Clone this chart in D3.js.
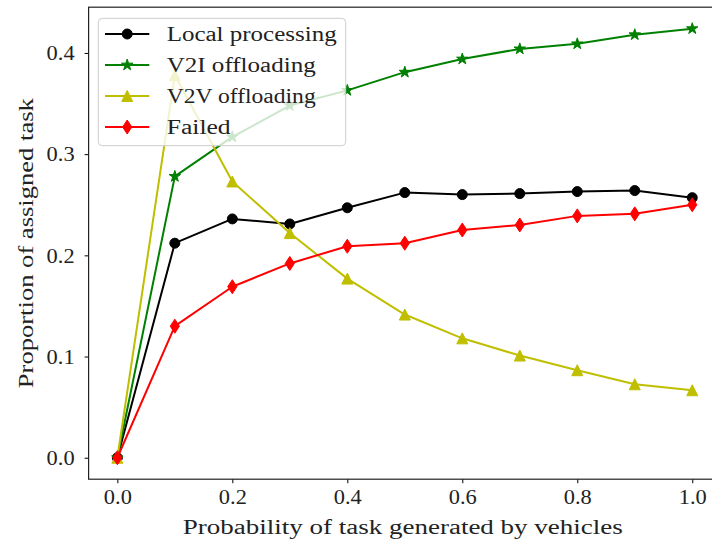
<!DOCTYPE html>
<html><head><meta charset="utf-8">
<script src="https://cdn.jsdelivr.net/npm/d3@7"></script>
<style>body{margin:0;background:#fff}svg{display:block}</style>
</head><body>
<svg id="c" width="712" height="541"></svg>
<script>
const xValues = [0, 0.1, 0.2, 0.3, 0.4, 0.5, 0.6, 0.7, 0.8, 0.9, 1.0];
const localProcessing = [0, 0.212, 0.236, 0.231, 0.247, 0.262, 0.260, 0.261, 0.263, 0.264, 0.257];
const v2iOffloading = [0, 0.278, 0.317, 0.348, 0.363, 0.381, 0.394, 0.404, 0.409, 0.418, 0.424];
const v2vOffloading = [0, 0.378, 0.273, 0.222, 0.177, 0.1415, 0.118, 0.101, 0.0865, 0.0726, 0.0667];
const failed = [0, 0.130, 0.169, 0.192, 0.209, 0.212, 0.225, 0.230, 0.239, 0.241, 0.250];
const seriesNames = ["Local processing", "V2I offloading", "V2V offloading", "Failed"];
const xTicks = [0, 0.2, 0.4, 0.6, 0.8, 1.0];
const yTicks = [0, 0.1, 0.2, 0.3, 0.4];
const xLabel = "Probability of task generated by vehicles";
const yLabel = "Proportion of assigned task";

const series = [
  {name: seriesNames[0], values: localProcessing, color: "#000000", marker: "circle"},
  {name: seriesNames[1], values: v2iOffloading, color: "#008000", marker: "star"},
  {name: seriesNames[2], values: v2vOffloading, color: "#bfbf00", marker: "triangle"},
  {name: seriesNames[3], values: failed, color: "#ff0000", marker: "diamond"}
];

const svg = d3.select("#c");
const FONT = "'Liberation Serif', serif";
const L = 88.6, R = 721, T = 7.2, B = 479.2;
const CH = 10.65; // approx width per character in the reference

const allY = series.flatMap(s => s.values);
const yMin = d3.min(allY), yMax = d3.max(allY), yPad = (yMax - yMin) * 0.05;
const x = d3.scaleLinear().domain([-0.05, 1.05]).range([L, R]);
const y = d3.scaleLinear().domain([yMin - yPad, yMax + yPad]).range([B, T]);

// axes
const xAxis = svg.append("g").attr("transform", `translate(0,${B})`)
  .call(d3.axisBottom(x).tickValues(xTicks).tickFormat(d3.format(".1f")).tickSize(4).tickSizeOuter(0));
const yAxis = svg.append("g").attr("transform", `translate(${L},0)`)
  .call(d3.axisLeft(y).tickValues(yTicks).tickFormat(d3.format(".1f")).tickSize(4).tickSizeOuter(0));
[xAxis, yAxis].forEach(a => {
  a.select(".domain").remove();
  a.selectAll(".tick line").attr("stroke", "#000").attr("stroke-width", 1);
  a.selectAll(".tick text").attr("font-family", FONT).attr("font-size", 20).attr("fill", "#222")
    .attr("textLength", 28).attr("lengthAdjust", "spacingAndGlyphs");
});
xAxis.selectAll(".tick text").attr("dy", null).attr("y", 25);
yAxis.selectAll(".tick text").attr("x", -14).attr("dy", "0.34em");

// frame
svg.append("rect").attr("x", L).attr("y", T).attr("width", R - L).attr("height", B - T)
  .attr("fill", "none").attr("stroke", "#222").attr("stroke-width", 1.2);

// marker paths
function markerPath(type) {
  if (type === "circle") return d3.symbol(d3.symbolCircle, Math.PI * 5 * 5)();
  if (type === "star") return d3.symbol(d3.symbolStar, 36 / 0.8908130915292852)();
  if (type === "triangle") { const s = 5.5; return `M0,${-s}L${s},${s}L${-s},${s}Z`; }
  if (type === "diamond") { const h = 7, w = 4.6; return `M0,${-h}L${w},0L0,${h}L${-w},0Z`; }
}

const line = d3.line().x((d, i) => x(xValues[i])).y(d => y(d));
const plot = svg.append("g");
series.forEach(s => {
  const g = plot.append("g");
  g.append("path").datum(s.values).attr("d", line).attr("fill", "none")
    .attr("stroke", s.color).attr("stroke-width", 2).attr("stroke-linejoin", "round");
  g.selectAll("path.m").data(s.values).join("path").attr("class", "m")
    .attr("transform", (d, i) => `translate(${x(xValues[i])},${y(d)})`)
    .attr("d", markerPath(s.marker)).attr("fill", s.color).attr("stroke", s.color).attr("stroke-width", 1);
});

// labels
svg.append("text").attr("x", (L + R) / 2 - 2).attr("y", 534).attr("text-anchor", "middle")
  .attr("font-family", FONT).attr("font-size", 20).attr("fill", "#222")
  .attr("textLength", 440).attr("lengthAdjust", "spacingAndGlyphs").text(xLabel);
svg.append("text").attr("transform", `translate(33,${(T + B) / 2}) rotate(-90)`).attr("text-anchor", "middle")
  .attr("font-family", FONT).attr("font-size", 20).attr("fill", "#222")
  .attr("textLength", 290).attr("lengthAdjust", "spacingAndGlyphs").text(yLabel);

// legend
const lg = svg.append("g");
lg.append("rect").attr("x", 98.3).attr("y", 18.3).attr("width", 247.4).attr("height", 127.4)
  .attr("rx", 4).attr("fill", "#ffffff").attr("fill-opacity", 0.8).attr("stroke", "#cccccc").attr("stroke-width", 1);
series.forEach((s, i) => {
  const cy = 34 + i * 31;
  lg.append("line").attr("x1", 105).attr("x2", 149.3).attr("y1", cy).attr("y2", cy)
    .attr("stroke", s.color).attr("stroke-width", 2);
  lg.append("path").attr("transform", `translate(127.2,${cy})`).attr("d", markerPath(s.marker))
    .attr("fill", s.color).attr("stroke", s.color).attr("stroke-width", 1);
  lg.append("text").attr("x", 166.7).attr("y", cy).attr("dy", "0.34em")
    .attr("font-family", FONT).attr("font-size", 20).attr("fill", "#222")
    .attr("textLength", Math.round(s.name.length * CH)).attr("lengthAdjust", "spacingAndGlyphs").text(s.name);
});
</script>
</body></html>
